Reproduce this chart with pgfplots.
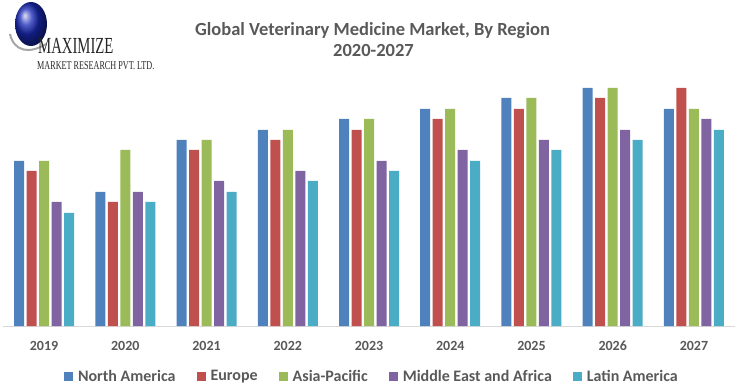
\documentclass[border=0pt]{standalone}
\usepackage{pgfplots}
\pgfplotsset{compat=1.18}
\usepackage{fontspec}
\setmainfont{Carlito}
\newfontfamily\logofont{Liberation Serif}
\definecolor{cNA}{HTML}{4F81BD}
\definecolor{cEU}{HTML}{C0504D}
\definecolor{cAP}{HTML}{9BBB59}
\definecolor{cME}{HTML}{8064A2}
\definecolor{cLA}{HTML}{4BACC6}
\definecolor{txt}{HTML}{595959}
\begin{document}
\begin{tikzpicture}
\useasboundingbox (0,0) rectangle (741pt,391pt);
% logo
\shade[ball color=blue!60!cNA!80!black] (31pt,367pt) ellipse (16pt and 22pt);
\draw[gray!70, line width=2pt] (10pt,357pt) .. controls (14pt,339pt) and (30pt,337pt) .. (46pt,347pt);
\node[anchor=base west, inner sep=0pt, text=black!85] at (38pt,337.5pt) {\scalebox{0.64}[1]{\logofont\fontsize{23}{23}\selectfont MAXIMIZE}};
\node[anchor=base west, inner sep=0pt, text=black!85] at (37pt,321pt) {\scalebox{0.68}[1]{\logofont\fontsize{12}{12}\selectfont MARKET RESEARCH PVT. LTD.}};
% title
\node[anchor=base, inner sep=0pt, text=txt, font=\fontsize{18.5}{22}\selectfont\bfseries] at (372.5pt,355pt) {Global Veterinary Medicine Market, By Region};
\node[anchor=base, inner sep=0pt, text=txt, font=\fontsize{18.5}{22}\selectfont\bfseries] at (373.5pt,334.3pt) {2020-2027};
\begin{axis}[
  at={(3.4pt,65pt)}, anchor=south west,
  scale only axis, width=731.2pt, height=250pt,
  xmin=-0.5, xmax=8.5, ymin=0, ymax=250,
  axis x line*=bottom, axis y line=none,
  x axis line style={draw=black!15, line width=1pt, -},
  xtick={0,1,2,3,4,5,6,7,8},
  xticklabels={2019,2020,2021,2022,2023,2024,2025,2026,2027},
  major tick length=0pt,
  xticklabel style={font=\fontsize{14}{16}\selectfont\bfseries, text=txt, anchor=base, yshift=-24pt},
  ybar=2.5pt, bar width=10pt,
  legend columns=5,
  legend image code/.code={\fill[#1] (0pt,-4.5pt) rectangle (9pt,4.5pt);},
  legend style={at={(0.5027,-0.202)}, anchor=center, draw=none, fill=none,
    font=\fontsize{16}{18}\selectfont\bfseries, text=txt,
    nodes={inner sep=0pt},
    /tikz/every odd column/.append style={column sep=5pt},
    /tikz/every even column/.append style={column sep=21pt}},
  legend cell align=left,
]
\addplot[fill=cNA, draw=none] coordinates {(0,165) (1,134) (2,186) (3,196) (4,207) (5,217) (6,228) (7,238) (8,217)};
\addplot[fill=cEU, draw=none] coordinates {(0,155) (1,124) (2,176) (3,186) (4,196) (5,207) (6,217) (7,228) (8,238)};
\addplot[fill=cAP, draw=none] coordinates {(0,165) (1,176) (2,186) (3,196) (4,207) (5,217) (6,228) (7,238) (8,217)};
\addplot[fill=cME, draw=none] coordinates {(0,124) (1,134) (2,145) (3,155) (4,165) (5,176) (6,186) (7,196) (8,207)};
\addplot[fill=cLA, draw=none] coordinates {(0,113) (1,124) (2,134) (3,145) (4,155) (5,165) (6,176) (7,186) (8,196)};
\legend{North America, Europe, Asia-Pacific, Middle East and Africa, Latin America}
\end{axis}
\end{tikzpicture}
\end{document}
